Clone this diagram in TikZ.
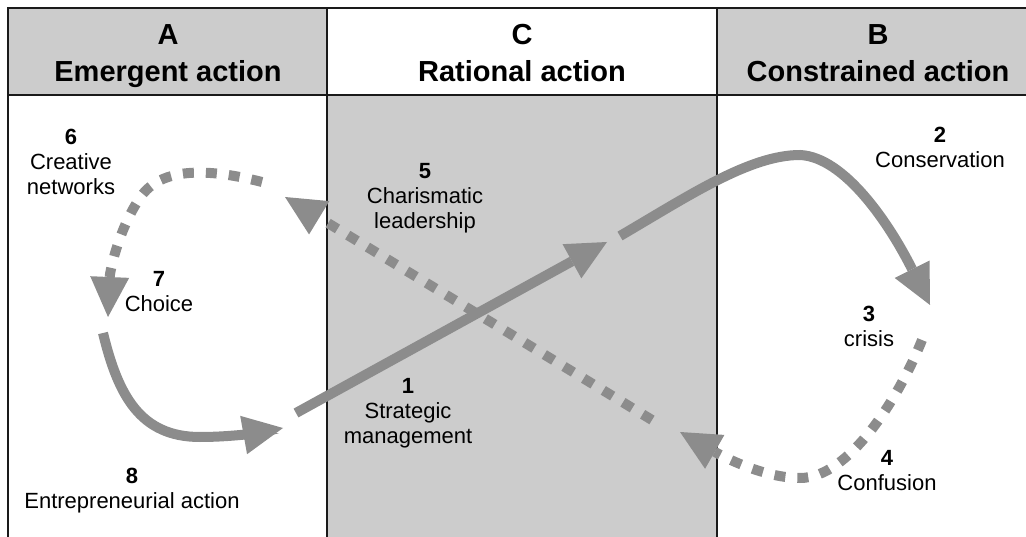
\documentclass[tikz,border=0pt]{standalone}
\usepackage{fontspec}
\setmainfont{Liberation Sans}
\usetikzlibrary{arrows.meta}
\definecolor{panel}{HTML}{CCCCCC}
\definecolor{flow}{HTML}{8C8C8C}
\definecolor{edge}{HTML}{1A1A1A}
\begin{document}
\begin{tikzpicture}[x=1pt,y=-1pt,
  flowline/.style={draw=flow, line width=10pt,
    -{Triangle[length=40pt,width=39pt,line width=0pt]}},
  dashflow/.style={flowline, dash pattern=on 11pt off 12pt},
  % base anchor of these multi-line nodes sits on the last line
  head/.style={font=\fontsize{29}{37}\selectfont\bfseries, align=center, anchor=base, inner sep=0pt},
  lbl/.style={font=\fontsize{22}{25}\selectfont, align=center, anchor=base, inner sep=0pt},
  frameline/.style={draw=edge, line width=1.6pt},
  divider/.style={draw=edge, line width=2.4pt}
]
\useasboundingbox (0,0) rectangle (1026,537);

% column panels
\fill[panel] (8,8) rectangle (327,95);
\fill[white] (327,8) rectangle (717,95);
\fill[panel] (717,8) rectangle (1026,95);
\fill[panel] (327,95) rectangle (717,537);

% frame lines
\draw[frameline] (1026,8) -- (8,8) -- (8,537);
\draw[frameline] (8,95) -- (1026,95);
\draw[divider] (327,8) -- (327,537);
\draw[divider] (717,8) -- (717,537);

% headings
\node[head] (hA) at (168,82) {A\\Emergent action};
\node[head] (hC) at (522,82) {C\\Rational action};
\node[head] (hB) at (878,82) {B\\Constrained action};

% connector end points
\coordinate (p1s) at (296,413);
\coordinate (p1e) at (607,242);
\coordinate (p2s) at (620,236);
\coordinate (p2m) at (800,155);
\coordinate (p2e) at (930,305);
\coordinate (p3s) at (922,340);
\coordinate (p3m) at (800,478);
\coordinate (p3e) at (680,432);
\coordinate (p5s) at (652,420);
\coordinate (p5e) at (285,197);
\coordinate (p6s) at (262,182);
\coordinate (p6m) at (142,195);
\coordinate (p6e) at (108,317);
\coordinate (p7s) at (103,333);
\coordinate (p7m) at (200,437);
\coordinate (p7e) at (283,428);

% dashed flows
\draw[dashflow] (p5s) -- (p5e);
\draw[dashflow] (p6s) .. controls (215,170) and (165,165) .. (p6m)
                      .. controls (120,225) and (110,270) .. (p6e);
\draw[dashflow] (p3s) .. controls (900,395) and (850,478) .. (p3m)
                      .. controls (760,478) and (715,452) .. (p3e);

% solid flows
\draw[flowline] (p7s) .. controls (118,395) and (140,437) .. (p7m)
                      .. controls (230,437) and (255,433) .. (p7e);
\draw[flowline] (p1s) -- (p1e);
\draw[flowline] (p2s) .. controls (690,195) and (750,155) .. (p2m)
                      .. controls (845,157) and (890,225) .. (p2e);

% stage labels
\node[lbl] (s1) at (408,443) {\textbf{1}\\Strategic\\management};
\node[lbl] (s2) at (940,168) {\textbf{2}\\Conservation};
\node[lbl] (s3) at (869,347) {\textbf{3}\\crisis};
\node[lbl] (s4) at (887,490) {\textbf{4}\\Confusion};
\node[lbl] (s5) at (425,229) {\textbf{5}\\Charismatic\\leadership};
\node[lbl] (s6) at (71,195) {\textbf{6}\\Creative\\networks};
\node[lbl] (s7) at (159,312) {\textbf{7}\\Choice};
\node[lbl] (s8) at (132,508) {\textbf{8}\\Entrepreneurial action};
\end{tikzpicture}
\end{document}
